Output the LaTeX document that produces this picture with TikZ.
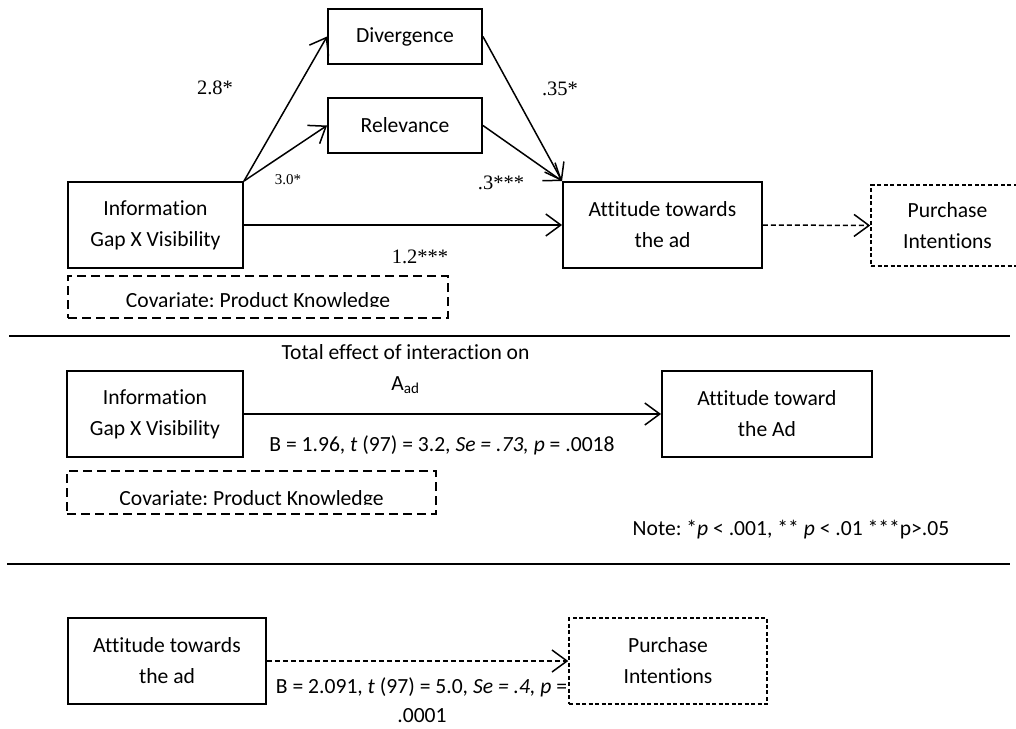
\documentclass[tikz,border=0pt]{standalone}
\usepackage{fontspec}
\setmainfont{Carlito}[Ligatures=NoCommon]
\newfontfamily\tms{Liberation Serif}
\usetikzlibrary{arrows.meta}
\begin{document}
\frenchspacing
\begin{tikzpicture}[x=1pt,y=-1pt,
  txt/.style={font=\fontsize{21.6}{31}\selectfont, align=center, inner sep=0pt},
  box/.style={txt, draw, line width=1.9pt},
  dbox/.style={box, line width=1.5pt, dash pattern=on 4pt off 2.5pt},
  cbox/.style={draw, line width=1.6pt, dash pattern=on 9pt off 5pt, inner sep=0pt},
  lab/.style={font=\tms\fontsize{20.5}{24}\selectfont, inner sep=0pt},
  arr/.style={line width=1.5pt, -{Straight Barb[length=15pt,width=22pt]}},
  darr/.style={arr, dash pattern=on 5pt off 3pt},
  sep/.style={line width=2.8pt}
]
\useasboundingbox (0,0) rectangle (1016,728);

% ---------- Section 1 ----------
\node[box, minimum width=154pt, minimum height=55pt] (div) at (405,36.5) {Divergence};
\node[box, minimum width=154pt, minimum height=55pt] (rel) at (405,125.5) {Relevance};
\node[box, minimum width=175pt, minimum height=86pt] (info) at (155.5,225) {Information\\Gap X Visibility};
\node[box, minimum width=199pt, minimum height=86pt] (att) at (662.5,225) {Attitude towards\\the ad};
\node[dbox, minimum width=153pt, minimum height=81pt] (pur) at (947.5,225.5) {Purchase\\Intentions};
\node[cbox, minimum width=380pt, minimum height=42pt] (cov) at (258,297) {};
\begin{scope}
  \clip (70,278) rectangle (446,306);
  \node[txt, anchor=base] (covt) at (258,307) {Covariate: Product Knowledge};
\end{scope}

\draw[arr] (info.north east) -- (div.west);
\draw[arr] (info.north east) -- (rel.west);
\draw[arr] (div.east) -- (att.north west);
\draw[arr] (rel.east) -- (att.north west);
\draw[arr] (info.east) -- (att.west);
\draw[darr] (att.east) -- (pur.west);

\node[lab] (l28) at (215,88) {2.8*};
\node[lab, font=\tms\fontsize{15}{18}\selectfont] (l30) at (288,180) {3.0*};
\node[lab] (l35) at (560,89) {.35*};
\node[lab] (l3) at (501,183) {.3***};
\node[lab] (l12) at (420,257) {1.2***};

\coordinate (s1a) at (9,336);
\coordinate (s1b) at (1010,336);
\draw[sep] (s1a) -- (s1b);

% ---------- Section 2 ----------
\node[box, minimum width=176pt, minimum height=86pt] (info2) at (155,414) {Information\\Gap X Visibility};
\node[box, minimum width=210pt, minimum height=86pt] (att2) at (767,414) {Attitude toward\\the Ad};
\draw[arr] (info2.east) -- (att2.west);
\node[txt] (tot) at (405.5,369) {Total effect of interaction on\\A\textsubscript{ad}};
\node[txt] (b1) at (442,445) {B = 1.96, \textit{t} (97) = 3.2, \textit{Se = .73, p} = .0018};
\node[cbox, minimum width=369pt, minimum height=43pt] (cov2) at (251.5,492.5) {};
\begin{scope}
  \clip (69,473) rectangle (434,504);
  \node[txt, anchor=base] (cov2t) at (251.5,505) {Covariate: Product Knowledge};
\end{scope}
\node[txt] (note) at (791,530) {Note: *\textit{p} < .001, ** \textit{p} < .01 ***p>.05};

\coordinate (s2a) at (7,564);
\coordinate (s2b) at (1010,564);
\draw[sep] (s2a) -- (s2b);

% ---------- Section 3 ----------
\node[box, minimum width=198pt, minimum height=86pt] (att3) at (167,661) {Attitude towards\\the ad};
\node[dbox, minimum width=198pt, minimum height=86pt] (pur3) at (668,661) {Purchase\\Intentions};
\draw[darr] (att3.east) -- (pur3.west);
\node[txt] (b2) at (421.5,687) {B = 2.091, \textit{t} (97) = 5.0, \textit{Se = .4, p} =};
\node[txt] (b2b) at (422,716) {.0001};
\end{tikzpicture}
\end{document}
